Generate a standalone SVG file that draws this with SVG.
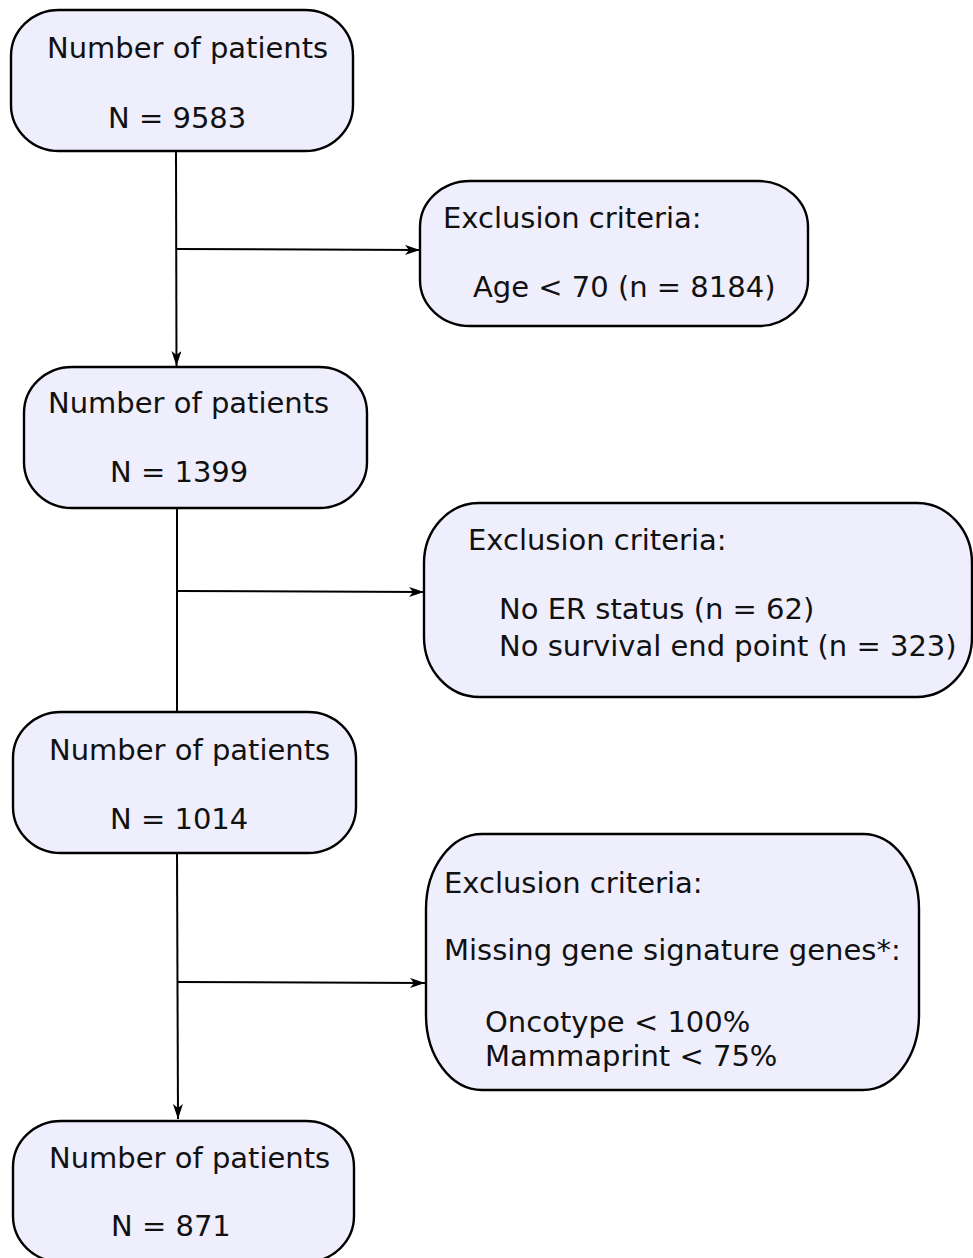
<svg xmlns="http://www.w3.org/2000/svg" width="973" height="1258" viewBox="0 0 973 1258">
<style>
.box{fill:#eeeefc;stroke:#000;stroke-width:2.4}
.t{font-family:"DejaVu Sans","Verdana",sans-serif;font-size:29px;fill:#111}
.ln{stroke:#000;stroke-width:2;fill:none}
</style>
<defs>
<marker id="ah" viewBox="0 0 15 10" refX="15" refY="5" markerWidth="15" markerHeight="10" markerUnits="userSpaceOnUse" orient="auto">
<path d="M0,0 L15,5 L0,10 L4,5 Z" fill="#000"/>
</marker>
</defs>
<rect width="973" height="1258" fill="#fff"/>
<g id="connectors">
<line class="ln" x1="176" y1="151" x2="176.5" y2="366" marker-end="url(#ah)"/>
<line class="ln" x1="176" y1="249" x2="420" y2="250" marker-end="url(#ah)"/>
<line class="ln" x1="177" y1="508" x2="177" y2="711"/>
<line class="ln" x1="177" y1="591" x2="424" y2="592" marker-end="url(#ah)"/>
<line class="ln" x1="177" y1="853" x2="178" y2="1119" marker-end="url(#ah)"/>
<line class="ln" x1="177" y1="982" x2="425" y2="983" marker-end="url(#ah)"/>
</g>
<g id="n1">
<rect class="box" x="11" y="10" width="342" height="141" rx="48" ry="46"/>
<text class="t" x="47" y="58">Number of patients</text>
<text class="t" x="108" y="128">N = 9583</text>
</g>
<g id="e1">
<rect class="box" x="420" y="181" width="388" height="145" rx="50" ry="46"/>
<text class="t" x="443" y="228">Exclusion criteria:</text>
<text class="t" x="473" y="297">Age &lt; 70 (n = 8184)</text>
</g>
<g id="n2">
<rect class="box" x="24" y="367" width="343" height="141" rx="48" ry="46"/>
<text class="t" x="48" y="413">Number of patients</text>
<text class="t" x="110" y="482">N = 1399</text>
</g>
<g id="e2">
<rect class="box" x="424" y="503" width="548" height="194" rx="55" ry="60"/>
<text class="t" x="468" y="550">Exclusion criteria:</text>
<text class="t" x="499" y="619">No ER status (n = 62)</text>
<text class="t" x="499" y="656">No survival end point (n = 323)</text>
</g>
<g id="n3">
<rect class="box" x="13" y="712" width="343" height="141" rx="48" ry="46"/>
<text class="t" x="49" y="760">Number of patients</text>
<text class="t" x="110" y="829">N = 1014</text>
</g>
<g id="e3">
<rect class="box" x="426" y="834" width="493" height="256" rx="56" ry="75"/>
<text class="t" x="444" y="893">Exclusion criteria:</text>
<text class="t" x="444" y="960">Missing gene signature genes*:</text>
<text class="t" x="485" y="1032">Oncotype &lt; 100%</text>
<text class="t" x="485" y="1066">Mammaprint &lt; 75%</text>
</g>
<g id="n4">
<rect class="box" x="13" y="1121" width="341" height="141" rx="48" ry="46"/>
<text class="t" x="49" y="1168">Number of patients</text>
<text class="t" x="111" y="1236">N = 871</text>
</g>
</svg>
